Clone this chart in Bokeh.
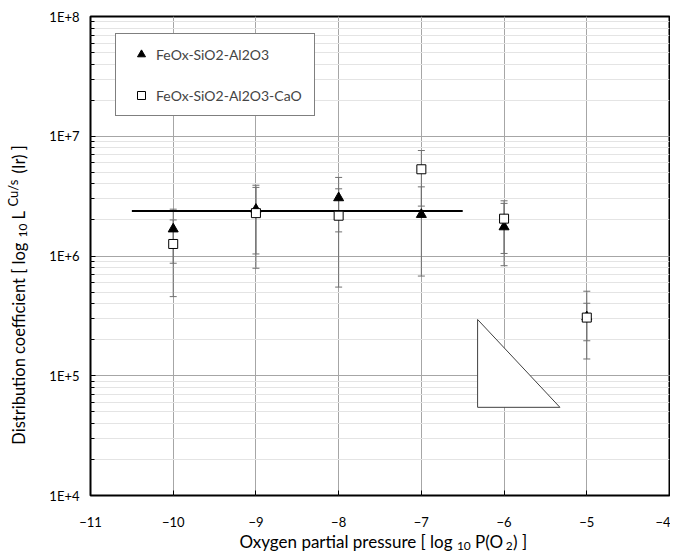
import math
from bokeh.plotting import figure
from bokeh.layouts import row, column
from bokeh.models import (ColumnDataSource, Range1d, FixedTicker, CustomJSTickFormatter,
                          Whisker, TeeHead, Legend, LegendItem, Label)
from bokeh.embed import file_html
from bokeh.resources import INLINE

# ---- data ----
x_vals = [-10, -9, -8, -7, -6, -5]
fsa = [1.68e6, 2.45e6, 3.06e6, 2.22e6, 1.75e6, 3.1e5]
fsa_hi = [2.0e6, 3.74e6, 4.53e6, 3.78e6, 2.75e6, 4.03e5]
fsa_lo = [8.7e5, 1.04e6, 5.5e5, 6.8e5, 1.05e6, 1.96e5]
fsac = [1.26e6, 2.28e6, 2.17e6, 5.3e6, 2.05e6, 3.06e5]
fsac_hi = [2.46e6, 3.9e6, 3.64e6, 7.6e6, 2.89e6, 5.08e5]
fsac_lo = [4.58e5, 7.9e5, 1.59e6, 2.61e6, 8.3e5, 1.38e5]
avg_x = [-10.5, -6.5]
avg_y = [2.37e6, 2.37e6]
slope_x = [-6.32, -6.32, -5.325]
slope_y = [2.95e5, 5.45e4, 5.45e4]
x_ticks = [-11, -10, -9, -8, -7, -6, -5, -4]
series_names = ["FeOx-SiO2-Al2O3", "FeOx-SiO2-Al2O3-CaO"]

FONT = "Lato"
TOTAL_H = 554
YT_W = 30

p = figure(width=640, height=530, y_axis_type="log",
           x_range=Range1d(-11, -4), y_range=Range1d(1e4, 1e8),
           output_backend="svg", toolbar_location=None,
           min_border_left=60, min_border_right=1, min_border_top=16, min_border_bottom=35)
p.background_fill_color = "white"
p.border_fill_color = "white"
p.outline_line_color = "black"
p.outline_line_width = 2

p.xaxis.ticker = FixedTicker(ticks=x_ticks, minor_ticks=[])
p.yaxis.formatter = CustomJSTickFormatter(code="return '1E+' + Math.round(Math.log10(tick));")
for ax in (p.xaxis, p.yaxis):
    ax.axis_line_color = None
    ax.major_tick_in = 5
    ax.major_tick_out = 0
    ax.minor_tick_in = 4
    ax.minor_tick_out = 0
    ax.major_tick_line_color = "black"
    ax.minor_tick_line_color = "black"
    ax.major_label_text_font = FONT
    ax.major_label_text_font_size = "13px"
    ax.major_label_text_color = "black"
p.xaxis.major_label_standoff = 21
p.yaxis.major_label_standoff = 11

p.xgrid.grid_line_color = "#a6a6a6"
p.ygrid.grid_line_color = "#a6a6a6"
p.ygrid.minor_grid_line_color = "#e4e4e4"

# slope triangle
p.patch(slope_x, slope_y, fill_color="white", line_color="#404040", line_width=1)

# error bars
src_a = ColumnDataSource(dict(x=x_vals, y=fsa, hi=fsa_hi, lo=fsa_lo))
src_c = ColumnDataSource(dict(x=x_vals, y=fsac, hi=fsac_hi, lo=fsac_lo))
for src in (src_a, src_c):
    w = Whisker(base="x", upper="hi", lower="lo", source=src, line_color="#707070", line_width=1,
                upper_head=TeeHead(size=7, line_color="#707070", line_width=1),
                lower_head=TeeHead(size=7, line_color="#707070", line_width=1))
    p.add_layout(w)

# average line
p.line(avg_x, avg_y, line_color="black", line_width=2)

r_a = p.scatter("x", "y", source=src_a, marker="triangle", size=10,
                fill_color="black", line_color="black")
r_c = p.scatter("x", "y", source=src_c, marker="square", size=9,
                fill_color="white", line_color="black", line_width=1)

legend = Legend(items=[LegendItem(label=series_names[0], renderers=[r_a]),
                       LegendItem(label=series_names[1], renderers=[r_c])],
                location=(25, 379), padding=10, spacing=21, glyph_width=30, glyph_height=20,
                label_height=20, label_standoff=0, label_width=148,
                label_text_font=FONT, label_text_font_size="14px",
                border_line_color="black", border_line_width=1,
                background_fill_color="white", background_fill_alpha=1)
p.add_layout(legend)


def text_fig(w, h, xr, yr):
    f = figure(width=w, height=h, x_range=xr, y_range=yr, output_backend="svg",
               toolbar_location=None, x_axis_location=None, y_axis_location=None,
               min_border=0)
    f.outline_line_color = None
    f.background_fill_color = "white"
    f.border_fill_color = "white"
    f.grid.visible = False
    return f


# y title panel: data coords == page pixel coords
yfig = text_fig(YT_W, TOTAL_H, Range1d(0, YT_W), Range1d(TOTAL_H, 0))
# x title panel
xfig = text_fig(640, TOTAL_H - 530, Range1d(YT_W, YT_W + 640), Range1d(TOTAL_H, 530))


def piece(f, text, x, y, size, align, angle=0.0):
    f.add_layout(Label(x=x, y=y, text=text, text_font=FONT, text_font_size=size,
                       text_align=align, text_baseline="middle", angle=angle,
                       text_color="black"))


# x title
xe, yc = 435, 541
piece(xfig, "Oxygen partial pressure  [ log", xe, yc, "17px", "right")
piece(xfig, "10", xe, yc + 4, "12px", "left")
piece(xfig, "P(O", xe + 20, yc, "17px", "left")
piece(xfig, "2", xe + 54, yc + 4, "12px", "left")
piece(xfig, ") ]", xe + 62, yc, "17px", "left")

# y title (rotated, reads bottom-to-top)
A = math.pi / 2
xc, ye = 18, 238
piece(yfig, "Distribution coefficient  [ log", xc, ye, "16.5px", "right", A)
piece(yfig, "10", xc + 4, ye - 1, "12px", "left", A)
piece(yfig, "L", xc, ye - 19, "16.5px", "left", A)
piece(yfig, "Cu/s", xc - 6, ye - 32, "13px", "left", A)
piece(yfig, "(Ir) ]", xc, ye - 65, "16.5px", "left", A)

root = row(yfig, column(p, xfig))
open("out.html", "w").write(file_html(root, INLINE))
